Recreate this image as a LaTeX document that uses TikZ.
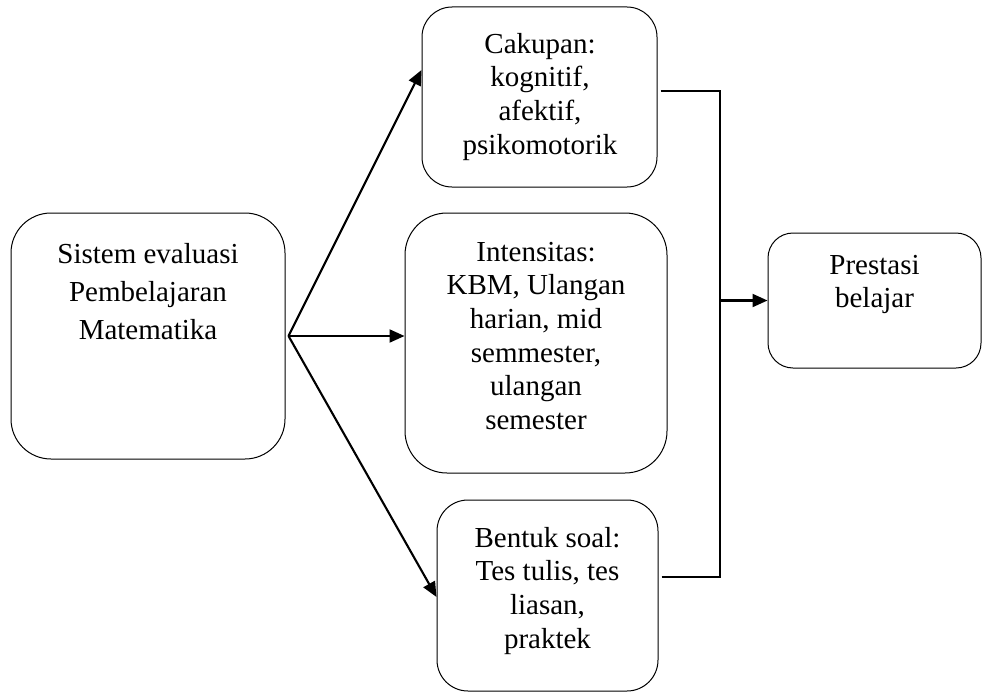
\documentclass[tikz,border=0pt]{standalone}
\usepackage{fontspec}
\setmainfont{Liberation Serif}
\usetikzlibrary{arrows.meta}
\begin{document}
\begin{tikzpicture}[x=1pt,y=-1pt,
  box/.style={draw, line width=1pt, rectangle, inner sep=0pt},
  txtA/.style={anchor=north, inner sep=0pt, align=center, font={\fontsize{29}{38}\selectfont}},
  txtB/.style={anchor=north, inner sep=0pt, align=center, font={\fontsize{29}{33.6}\selectfont}},
  arr/.style={line width=2.1pt, -{Triangle[length=15pt,width=13pt]}},
  conn/.style={line width=2.1pt}]
\useasboundingbox (0,0) rectangle (982,693);
% boxes
\node[box, rounded corners=40pt, minimum width=274pt, minimum height=246pt] (L) at (148,336) {};
\node[box, rounded corners=30pt, minimum width=235pt, minimum height=180pt] (T) at (539.5,97) {};
\node[box, rounded corners=42pt, minimum width=262pt, minimum height=260pt] (M) at (536,343) {};
\node[box, rounded corners=31pt, minimum width=221pt, minimum height=191pt] (B) at (547.5,595.5) {};
\node[box, rounded corners=25pt, minimum width=213pt, minimum height=135pt] (R) at (874.5,300.5) {};
% texts
\node[txtA] (Lt) at (148,{263-26.6}) {\strut Sistem evaluasi\\Pembelajaran\\Matematika};
\node[txtB] (Tt) at (540,{53-23.52}) {\strut Cakupan:\\kognitif,\\afektif,\\psikomotorik};
\node[txtB] (Mt) at (536,{261-23.52}) {\strut Intensitas:\\KBM, Ulangan\\harian, mid\\semmester,\\ulangan\\semester};
\node[txtB] (Bt) at (547.5,{547-23.52}) {\strut Bentuk soal:\\Tes tulis, tes\\liasan,\\praktek};
\node[txtB] (Rt) at (874.5,{274-23.52}) {\strut Prestasi\\belajar};
% connectors
\coordinate (src) at ([xshift=3pt]L.east);
\draw[arr] (src) -- ([yshift=27pt]T.west);
\draw[arr] (src) -- (src -| M.west);
\draw[arr] (src) -- ([yshift=-1.5pt]B.west);
\coordinate (bus) at (720,300.5);
\draw[conn] ([xshift=3pt,yshift=6pt]T.east) -| (bus);
\draw[conn] ([xshift=3pt,yshift=18.5pt]B.east) -| (bus);
\draw[arr] (bus) -- (R.west);
\end{tikzpicture}
\end{document}
